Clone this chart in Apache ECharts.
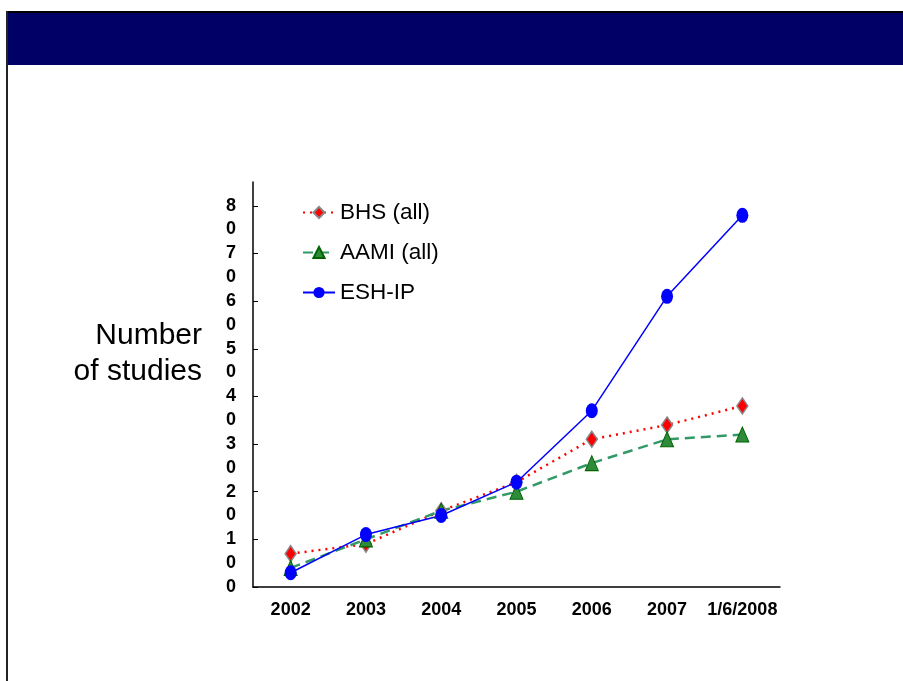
<!DOCTYPE html>
<html>
<head>
<meta charset="utf-8">
<script src="https://cdn.jsdelivr.net/npm/echarts@6/dist/echarts.min.js"></script>
<style>
html, body { margin: 0; padding: 0; background: #fff; }
#main { width: 903px; height: 681px; }
</style>
</head>
<body>
<div id="main"></div>
<script>
// categories and values
var years = ['2002', '2003', '2004', '2005', '2006', '2007', '1/6/2008'];
var bhsAll = [7, 9, 16, 22, 31, 34, 38];
var aamiAll = [4, 10, 16, 20, 26, 31, 32];
var eshIp = [3, 11, 15, 22, 37, 61, 78];
var yTicks = [0, 10, 20, 30, 40, 50, 60, 70, 80];

var yMax = 85;
var labelLine = 23.5;
var gridTop = 182, gridBottom = 94;
// the wrapped labels hang below their tick (first digit on the tick),
// so place them half a line lower, in axis units
var pxPerUnit = (681 - gridTop - gridBottom) / yMax;
var labelShift = (labelLine / 2) / pxPerUnit;
var yLabelPos = yTicks.map(function (v) { return v === 0 ? 0 : v - labelShift; });

var chart = echarts.init(document.getElementById('main'));

var option = {
	animation: false,
	textStyle: { fontFamily: 'Liberation Sans, Arial, sans-serif' },
	graphic: [
		// title bar
		{ type: 'rect', left: 8, top: 13, shape: { width: 895, height: 52 }, style: { fill: '#000066' }, z: 0 },
		{ type: 'rect', left: 6, top: 11, shape: { width: 897, height: 2 }, style: { fill: '#000' } },
		{ type: 'rect', left: 6, top: 11, shape: { width: 2, height: 670 }, style: { fill: '#222' } },
		{
			type: 'text', x: 202, y: 318,
			style: {
				text: 'Number\nof studies', align: 'right', verticalAlign: 'top', lineHeight: 36,
				fontSize: 30, fill: '#000', fontFamily: 'Liberation Sans, Arial, sans-serif'
			}
		}
	],
	legend: {
		orient: 'vertical',
		left: 297,
		top: 196,
		itemWidth: 32,
		itemHeight: 14,
		itemGap: 17,
		textStyle: { fontSize: 22.5, color: '#000' },
		data: ['BHS (all)', 'AAMI (all)', 'ESH-IP']
	},
	grid: { left: 253, right: 123, top: gridTop, bottom: gridBottom },
	xAxis: {
		type: 'category',
		data: years,
		boundaryGap: true,
		axisLine: { lineStyle: { color: '#000', width: 1.5 } },
		axisTick: { length: 5, interval: 0, lineStyle: { color: '#000' } },
		axisLabel: { interval: 0, fontSize: 18, fontWeight: 'bold', color: '#000', margin: 14 }
	},
	yAxis: {
		type: 'value',
		min: 0,
		max: yMax,
		interval: 10,
		splitLine: { show: false },
		axisLine: { show: true, lineStyle: { color: '#000', width: 1.5 } },
		axisTick: { show: true, inside: true, length: 5, customValues: yTicks, lineStyle: { color: '#000' } },
		axisLabel: {
			customValues: yLabelPos,
			fontSize: 18, fontWeight: 'bold', color: '#000', margin: 17,
			lineHeight: labelLine,
			formatter: function (v) {
				var t = Math.round(v / 10) * 10;
				return String(t).split('').join('\n');
			}
		}
	},
	series: [
		{
			name: 'BHS (all)', type: 'line', data: bhsAll,
			symbol: 'diamond', symbolSize: [11, 16],
			itemStyle: { color: '#ff0000', borderColor: '#888', borderWidth: 1.5 },
			lineStyle: { color: '#ff0000', width: 2.5, type: [2, 5] }
		},
		{
			name: 'AAMI (all)', type: 'line', data: aamiAll,
			symbol: 'triangle', symbolSize: [13, 15],
			itemStyle: { color: '#2e8b3a', borderColor: '#006400', borderWidth: 1 },
			lineStyle: { color: '#339966', width: 2.5, type: [10, 6] }
		},
		{
			name: 'ESH-IP', type: 'line', data: eshIp,
			symbol: 'circle', symbolSize: [12, 15],
			itemStyle: { color: '#0000ff' },
			lineStyle: { color: '#0000ff', width: 1.5 }
		}
	]
};

chart.setOption(option);
</script>
</body>
</html>
